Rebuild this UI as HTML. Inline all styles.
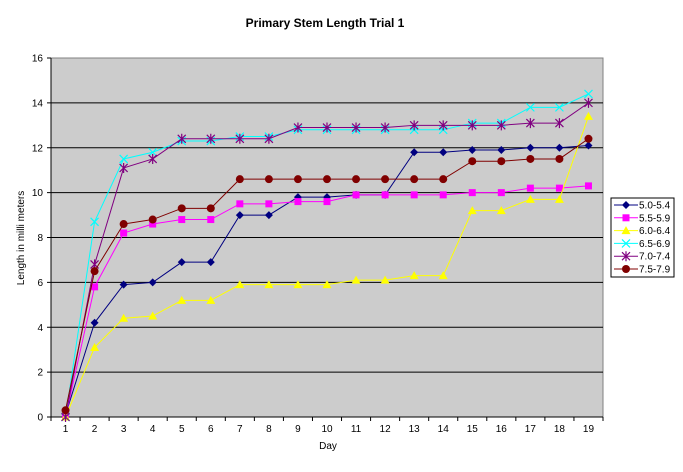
<!DOCTYPE html>
<html><head><meta charset="utf-8"><style>
body{margin:0;background:#fff;font-family:"Liberation Sans",Arial,sans-serif}
svg text{font-family:"Liberation Sans",Arial,sans-serif}
</style></head><body>
<svg id="c" width="683" height="467" xmlns="http://www.w3.org/2000/svg">
<text x="325" y="27" text-anchor="middle" font-size="12" font-weight="bold">Primary Stem Length Trial 1</text>
<text x="328" y="449" text-anchor="middle" font-size="10">Day</text>
<text transform="translate(24,238) rotate(-90)" text-anchor="middle" font-size="10">Length in milli meters</text>
<g id="plot"></g>
<g id="legend"></g>
</svg>
<script>
const days = [1,2,3,4,5,6,7,8,9,10,11,12,13,14,15,16,17,18,19];
const yTicks = [0,2,4,6,8,10,12,14,16];
const seriesNames = ["5.0-5.4","5.5-5.9","6.0-6.4","6.5-6.9","7.0-7.4","7.5-7.9"];
const s1 = [0.1,4.2,5.9,6.0,6.9,6.9,9.0,9.0,9.8,9.8,9.9,9.9,11.8,11.8,11.9,11.9,12.0,12.0,12.1];
const s2 = [0,5.8,8.2,8.6,8.8,8.8,9.5,9.5,9.6,9.6,9.9,9.9,9.9,9.9,10.0,10.0,10.2,10.2,10.3];
const s3 = [0,3.1,4.4,4.5,5.2,5.2,5.9,5.9,5.9,5.9,6.1,6.1,6.3,6.3,9.2,9.2,9.7,9.7,13.4];
const s4 = [0,8.7,11.5,11.8,12.3,12.3,12.5,12.5,12.8,12.8,12.8,12.8,12.8,12.8,13.1,13.1,13.8,13.8,14.4];
const s5 = [0,6.8,11.1,11.5,12.4,12.4,12.4,12.4,12.9,12.9,12.9,12.9,13.0,13.0,13.0,13.0,13.1,13.1,14.0];
const s6 = [0.3,6.5,8.6,8.8,9.3,9.3,10.6,10.6,10.6,10.6,10.6,10.6,10.6,10.6,11.4,11.4,11.5,11.5,12.4];
const allSeries = [s1,s2,s3,s4,s5,s6];
const colors = ["#000080","#ff00ff","#ffff00","#00ffff","#800080","#800000"];
const markers = ["diamond","square","triangle","x","star","circle"];

const L=51,R=603,T=58,B=417,yMax=16;
const step=(R-L)/days.length;
const xS=i=>L+step*(i+0.5);
const yS=v=>B-(v/yMax)*(B-T);
const NS="http://www.w3.org/2000/svg";
const plot=document.getElementById('plot');
function mk(tag,attrs,parent){const e=document.createElementNS(NS,tag);for(const k in attrs)e.setAttribute(k,attrs[k]);parent.appendChild(e);return e;}

let bg=mk('rect',{x:L,y:T,width:R-L,height:B-T,fill:'#cccccc',stroke:'#808080'},plot);


yTicks.forEach(t=>{
  const y=yS(t);
  if(t>0&&t<yMax){const g=mk('line',{x1:L,x2:R,y1:y,y2:y,stroke:'#000','stroke-width':1},plot);
  
  }
  mk('line',{x1:L-4,x2:L,y1:y,y2:y,stroke:'#000'},plot);
  const tx=mk('text',{x:L-8,y:y+3.5,'text-anchor':'end','font-size':10},plot);
  tx.textContent=t;
  
  
});
mk('line',{x1:L,x2:L,y1:T,y2:B,stroke:'#000'},plot);
mk('line',{x1:L,x2:R,y1:B,y2:B,stroke:'#000'},plot);
for(let i=0;i<=days.length;i++){const x=L+step*i;mk('line',{x1:x,x2:x,y1:B,y2:B+4,stroke:'#000'},plot);}
days.forEach((d,i)=>{
  const tx=mk('text',{x:xS(i),y:B+15,'text-anchor':'middle','font-size':10},plot);
  tx.textContent=d;
  
  
});

function marker(type,x,y,c,parent){
  const g=mk('g',{},parent);
  if(type==='diamond')mk('polygon',{points:`${x},${y-4} ${x+4},${y} ${x},${y+4} ${x-4},${y}`,fill:c},g);
  else if(type==='square')mk('rect',{x:x-3.5,y:y-3.5,width:7,height:7,fill:c},g);
  else if(type==='triangle')mk('polygon',{points:`${x},${y-4.5} ${x+4.5},${y+3.5} ${x-4.5},${y+3.5}`,fill:c},g);
  else if(type==='circle')mk('circle',{cx:x,cy:y,r:4,fill:c},g);
  else if(type==='x')mk('path',{d:`M${x-4},${y-4}L${x+4},${y+4}M${x-4},${y+4}L${x+4},${y-4}`,stroke:c,'stroke-width':1.2},g);
  else if(type==='star')mk('path',{d:`M${x-4},${y-4}L${x+4},${y+4}M${x-4},${y+4}L${x+4},${y-4}M${x},${y-5}L${x},${y+5}`,stroke:c,'stroke-width':1.2},g);
  return g;
}
allSeries.forEach((s,k)=>{
  const g=mk('g',{},plot);
  
  
  const pts=s.map((v,i)=>xS(i)+','+yS(v)).join(' ');
  mk('polyline',{points:pts,fill:'none',stroke:colors[k],'stroke-width':1},g);
  s.forEach((v,i)=>{const m=marker(markers[k],xS(i),yS(v),colors[k],g);
    
    });
});

const lg=document.getElementById('legend');


mk('rect',{x:611,y:198,width:63,height:79,fill:'#fff',stroke:'#000'},lg);
seriesNames.forEach((n,k)=>{
  const y=205+k*12.8;
  const e=mk('g',{},lg);
  
  
  mk('line',{x1:614,x2:638,y1:y,y2:y,stroke:colors[k],'stroke-width':1},e);
  marker(markers[k],626,y,colors[k],e);
  const t=mk('text',{x:639,y:y+3.5,'font-size':10},e);
  t.textContent=n;
});
</script>
</body></html>
